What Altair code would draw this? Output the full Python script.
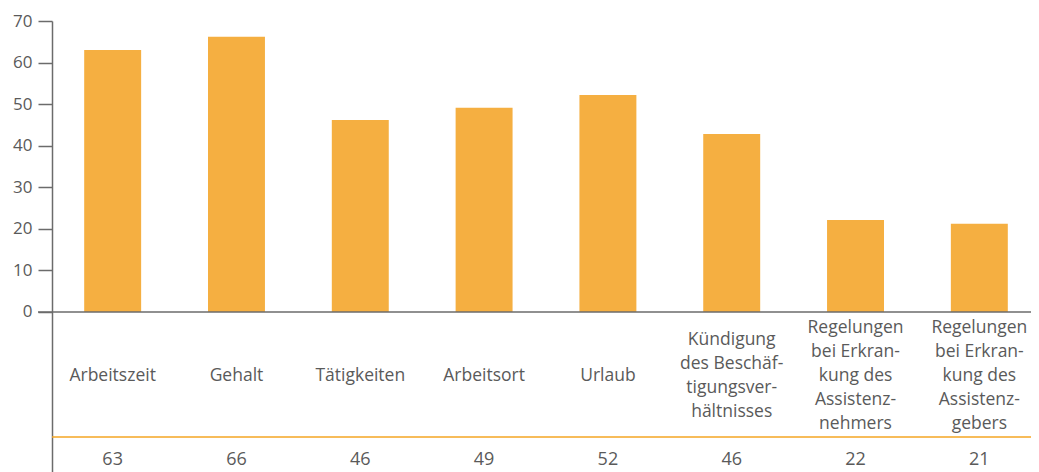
import altair as alt
import pandas as pd

categories = [
    "Arbeitszeit",
    "Gehalt",
    "Tätigkeiten",
    "Arbeitsort",
    "Urlaub",
    "Kündigung\ndes Beschäf-\ntigungsver-\nhältnisses",
    "Regelungen\nbei Erkran-\nkung des\nAssistenz-\nnehmers",
    "Regelungen\nbei Erkran-\nkung des\nAssistenz-\ngebers",
]
bar_values = [63, 66.2, 46.2, 49.1, 52.2, 42.8, 22.1, 21.2]
table_values = ["63", "66", "46", "49", "52", "46", "22", "21"]
y_ticks = [0, 10, 20, 30, 40, 50, 60, 70]

df = pd.DataFrame({"cat": categories, "value": bar_values, "label": table_values})

FONT = "Open Sans"
TXT = "#5a5a5a"
W = 979
H = 451
PX_PER_UNIT = 291 / 70.0
LINE_H = 24

xenc = alt.X("cat:N", sort=categories, axis=None,
             scale=alt.Scale(paddingInner=0.54, paddingOuter=0.26, range=[0, 988]))
yscale = alt.Scale(domain=[-38.5, 70], nice=False, zero=False)

bars = alt.Chart(df).mark_bar(color="#F5AF41").encode(
    x=xenc,
    y=alt.Y("value:Q", scale=yscale,
            axis=alt.Axis(values=y_ticks, title=None, grid=False,
                          domainColor="#6b6b6b", domainWidth=1.5,
                          tickColor="#6b6b6b", tickWidth=1.5, tickSize=14,
                          labelPadding=6, labelFont=FONT, labelFontSize=17,
                          labelColor=TXT)),
)

zero_rule = alt.Chart(pd.DataFrame({"y": [0]})).mark_rule(
    color="#6b6b6b", strokeWidth=1.5
).encode(y=alt.Y("y:Q"), x=alt.value(-14), x2=alt.value(W + 20))

orange_rule = alt.Chart(pd.DataFrame({"y": [-30.1]})).mark_rule(
    color="#F5A623", strokeWidth=1.5
).encode(y=alt.Y("y:Q"), x=alt.value(0), x2=alt.value(W + 20))

cat_text = alt.Chart(df).transform_calculate(
    ypos=f"-15.4 + (length(split(datum.cat, '\\n')) - 1) * 0.5 * {LINE_H} / {PX_PER_UNIT}"
).mark_text(
    font=FONT, fontSize=17.5, color=TXT, lineBreak="\n", lineHeight=LINE_H,
    align="center", baseline="middle"
).encode(x=xenc, y=alt.Y("ypos:Q"), text="cat:N")

num_text = alt.Chart(df).mark_text(
    font=FONT, fontSize=18, color=TXT, align="center", baseline="middle"
).encode(x=xenc, y=alt.datum(-35.5), text="label:N")

chart = alt.layer(bars, zero_rule, orange_rule, cat_text, num_text).properties(
    width=W, height=H,
    autosize=alt.AutoSizeParams(type="none"),
    padding={"left": 44, "top": 13, "right": 0, "bottom": 0},
).configure_view(stroke=None)

chart.save("out.html", embed_options={"renderer": "svg", "actions": False})
